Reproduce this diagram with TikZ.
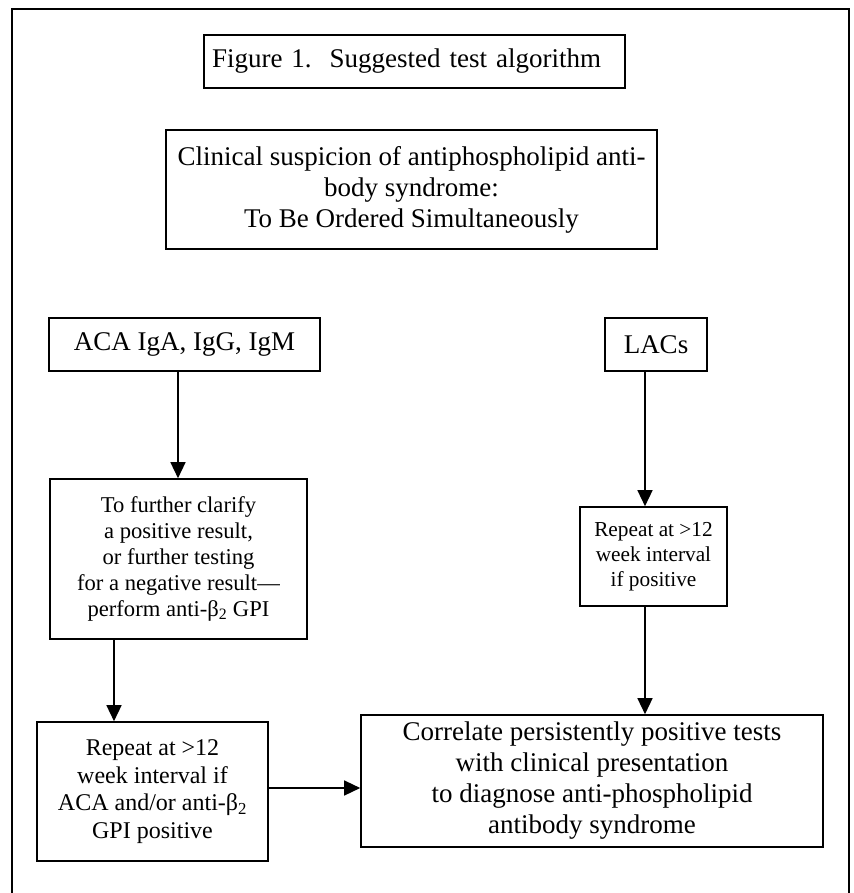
\documentclass[tikz,border=0pt]{standalone}
\usepackage{fontspec}
\setmainfont{Liberation Serif}
\usepackage{tikz}
\usetikzlibrary{arrows.meta}

\tikzset{
  box/.style={draw, line width=1.6pt, inner sep=0pt, align=center},
  flow/.style={line width=1.4pt, -{Triangle[length=16pt, width=15pt]}},
  bigtext/.style={font=\fontsize{27}{31}\selectfont},
  midtext/.style={font=\fontsize{24}{27.6}\selectfont},
  smalltext/.style={font=\fontsize{22.6}{26}\selectfont},
  tinytext/.style={font=\fontsize{21.3}{25}\selectfont}
}

\begin{document}
\begin{tikzpicture}[x=1pt, y=-1pt]

  \useasboundingbox (0,0) rectangle (853,893);
  \draw[line width=2pt] (11.5,900) -- (11.5,9.5) -- (848.5,9.5) -- (848.5,900);

  \node[box, bigtext, minimum width=421pt, minimum height=53pt, text width=405pt, inner xsep=8pt, align=left] (title) at (414.5,61.5) {Figure 1.\ \ Suggested test algorithm};

  \node[box, bigtext, minimum width=491pt, minimum height=119pt] (clinical) at (411.5,189.5) {Clinical suspicion of antiphospholipid anti-\\body syndrome:\\To Be Ordered Simultaneously};

  \node[box, bigtext, minimum width=271pt, minimum height=53pt] (aca) at (184.5,344.5) {ACA IgA, IgG, IgM};
  \node[box, bigtext, minimum width=102pt, minimum height=53pt] (lacs) at (656,344.5) {LACs};

  \node[box, smalltext, minimum width=257pt, minimum height=160pt] (clarify) at (178.5,559) {To further clarify\\a positive result,\\or further testing\\for a negative result—\\perform anti-β\textsubscript{2} GPI};
  \node[box, tinytext, minimum width=147pt, minimum height=99pt] (lacrepeat) at (653.5,556.5) {Repeat at >12\\week interval\\if positive};

  \node[box, midtext, minimum width=231pt, minimum height=139pt] (acarepeat) at (152.5,791.5) {Repeat at >12\\week interval if\\ACA and/or anti-β\textsubscript{2}\\GPI positive};
  \node[box, bigtext, minimum width=462pt, minimum height=132pt] (correlate) at (592,781) {Correlate persistently positive tests\\with clinical presentation\\to diagnose anti-phospholipid\\antibody syndrome};

  \coordinate (topx) at (178,0);
  \coordinate (leftx) at (114,0);
  \coordinate (rightx) at (645,0);
  \coordinate (lowy) at (0,788);

  \draw[flow] (aca.south -| topx) -- (clarify.north -| topx);
  \draw[flow] (lacs.south -| rightx) -- (lacrepeat.north -| rightx);
  \draw[flow] (clarify.south -| leftx) -- (acarepeat.north -| leftx);
  \draw[flow] (lacrepeat.south -| rightx) -- (correlate.north -| rightx);
  \draw[flow] (acarepeat.east |- lowy) -- (correlate.west |- lowy);

\end{tikzpicture}
\end{document}
